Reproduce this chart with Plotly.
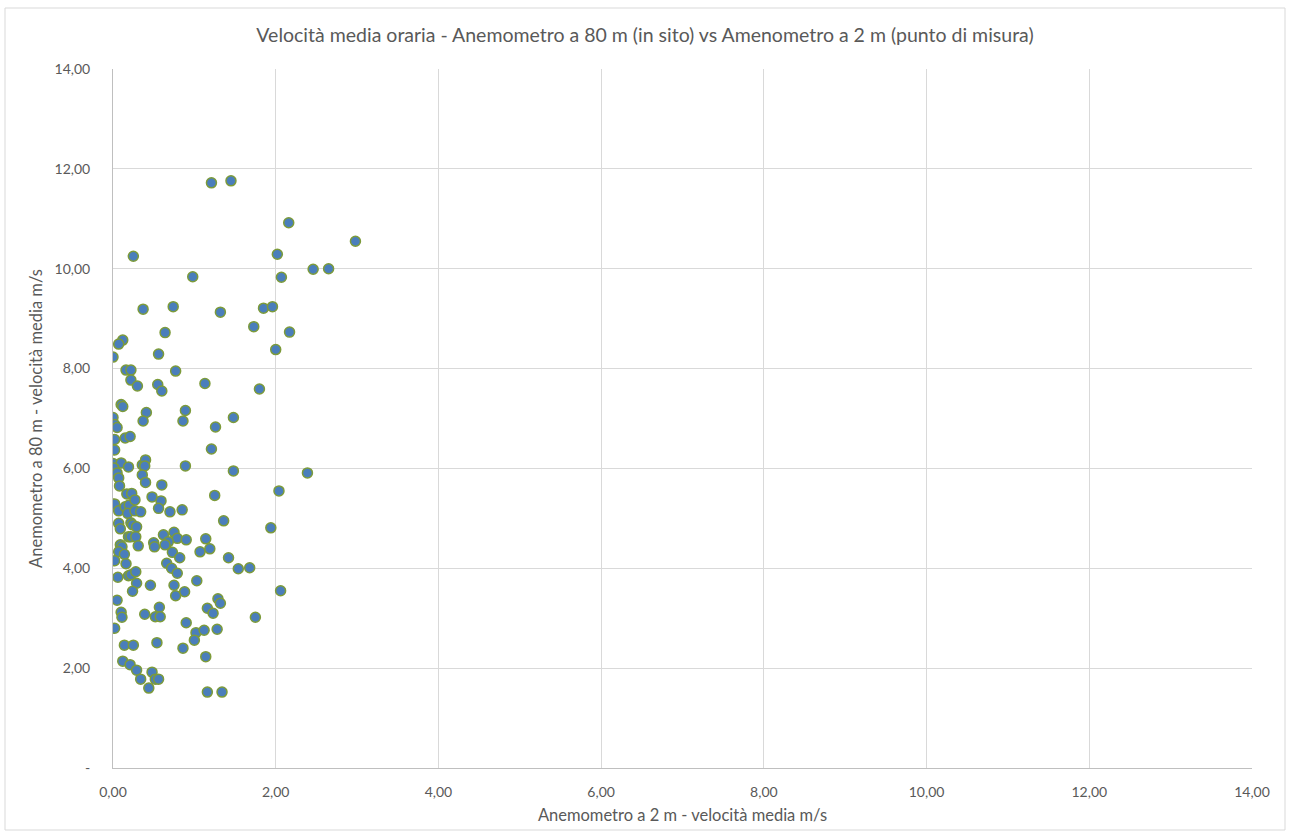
import plotly.graph_objects as go

# Hourly mean wind speed: anemometer at 2 m (x) vs anemometer at 80 m (y), m/s
vel_2m = [
    1.21, 1.45, 2.16, 0.25, 2.98, 2.02, 2.46, 2.65, 0.98, 2.07,
    0.74, 0.37, 1.32, 1.85, 1.96, 1.73, 2.17, 0.64, 0.12, 0.07,
    0.00, 0.56, 2.00, 0.16, 0.22, 0.77, 0.22, 0.30, 0.55, 0.60,
    1.13, 1.80, 0.10, 0.12, 0.41, 0.89, 0.00, 0.37, 0.86, 1.48,
    0.02, 0.05, 1.26, 0.02, 0.15, 0.21, 0.02, 1.21, 0.00, 0.10,
    0.01, 0.19, 0.36, 0.40, 0.39, 0.89, 1.48, 2.39, 0.05, 0.07,
    0.08, 0.36, 0.40, 0.60, 0.17, 0.23, 0.48, 0.59, 1.25, 2.04,
    0.02, 0.07, 0.15, 0.20, 0.27, 0.18, 0.27, 0.34, 0.56, 0.70,
    0.85, 1.36, 1.94, 0.07, 0.09, 0.22, 0.24, 0.29, 0.19, 0.22,
    0.28, 0.62, 0.75, 0.79, 0.68, 0.90, 1.14, 0.50, 0.51, 0.64,
    0.09, 0.11, 0.31, 1.07, 1.19, 0.73, 0.07, 0.14, 0.82, 1.42,
    0.02, 0.16, 1.54, 1.68, 0.66, 0.72, 0.79, 0.06, 0.19, 0.22,
    0.28, 0.29, 0.24, 0.46, 0.75, 1.03, 0.88, 0.77, 2.06, 0.05,
    1.29, 1.32, 1.16, 1.23, 0.57, 0.39, 0.10, 0.11, 0.52, 0.58,
    1.75, 0.90, 0.02, 1.02, 1.12, 1.28, 1.00, 0.14, 0.25, 0.54,
    0.86, 1.14, 0.12, 0.21, 0.29, 0.48, 0.34, 0.52, 0.56, 0.44,
    1.16, 1.34,
]
vel_80m = [
    11.72, 11.76, 10.92, 10.25, 10.55, 10.29, 9.99, 10.00, 9.84, 9.83,
    9.24, 9.19, 9.13, 9.21, 9.24, 8.84, 8.73, 8.72, 8.57, 8.49,
    8.23, 8.29, 8.38, 7.97, 7.97, 7.95, 7.77, 7.65, 7.68, 7.55,
    7.70, 7.59, 7.28, 7.24, 7.12, 7.16, 7.02, 6.95, 6.95, 7.02,
    6.88, 6.82, 6.83, 6.58, 6.61, 6.64, 6.37, 6.39, 6.10, 6.11,
    6.01, 6.03, 6.07, 6.17, 6.05, 6.05, 5.95, 5.91, 5.91, 5.81,
    5.65, 5.87, 5.72, 5.67, 5.49, 5.50, 5.43, 5.35, 5.46, 5.55,
    5.29, 5.15, 5.23, 5.27, 5.37, 5.10, 5.15, 5.13, 5.20, 5.13,
    5.17, 4.95, 4.81, 4.90, 4.79, 4.91, 4.87, 4.83, 4.63, 4.63,
    4.63, 4.67, 4.72, 4.60, 4.53, 4.57, 4.59, 4.51, 4.43, 4.47,
    4.47, 4.43, 4.45, 4.33, 4.39, 4.32, 4.33, 4.28, 4.21, 4.21,
    4.15, 4.09, 3.99, 4.01, 4.10, 4.00, 3.90, 3.82, 3.85, 3.87,
    3.93, 3.70, 3.54, 3.66, 3.66, 3.75, 3.53, 3.45, 3.55, 3.36,
    3.39, 3.30, 3.20, 3.10, 3.22, 3.08, 3.12, 3.02, 3.03, 3.03,
    3.02, 2.91, 2.80, 2.71, 2.76, 2.78, 2.56, 2.46, 2.46, 2.51,
    2.40, 2.23, 2.14, 2.07, 1.96, 1.92, 1.78, 1.78, 1.78, 1.60,
    1.52, 1.52,
]

tick_vals = [0, 2, 4, 6, 8, 10, 12, 14]
x_tick_text = ["0,00", "2,00", "4,00", "6,00", "8,00", "10,00", "12,00", "14,00"]
y_tick_text = ["-", "2,00", "4,00", "6,00", "8,00", "10,00", "12,00", "14,00"]

FONT = "Lato, Calibri, Carlito, sans-serif"
TEXT_COLOR = "#595959"
GRID = "#D9D9D9"

fig = go.Figure(
    go.Scatter(
        x=vel_2m,
        y=vel_80m,
        mode="markers",
        marker=dict(
            size=10,
            color="#4A7EBB",
            line=dict(color="#7D9B3A", width=1.5),
        ),
        hoverinfo="x+y",
    )
)

axis_common = dict(
    range=[0, 14],
    tickvals=tick_vals,
    showgrid=True,
    gridcolor=GRID,
    gridwidth=1,
    zeroline=False,
    showline=True,
    linecolor="#BFBFBF",
    linewidth=1,
    ticks="",
    tickfont=dict(family=FONT, size=14, color=TEXT_COLOR),
    fixedrange=True,
)

fig.update_xaxes(
    **axis_common,
    ticktext=x_tick_text,
    ticklabelstandoff=11,
    title=dict(
        text="Anemometro a 2 m - velocità media m/s",
        font=dict(family=FONT, size=16.5, color=TEXT_COLOR),
        standoff=10,
    ),
)
fig.update_yaxes(
    **axis_common,
    ticktext=y_tick_text,
    ticklabelstandoff=19,
    title=dict(
        text="Anemometro a 80 m - velocità media m/s",
        font=dict(family=FONT, size=16.5, color=TEXT_COLOR),
        standoff=7,
    ),
)

fig.update_layout(
    width=1290,
    height=839,
    paper_bgcolor="white",
    plot_bgcolor="white",
    showlegend=False,
    margin=dict(l=113, r=38, t=69, b=71),
    title=dict(
        text="Velocità media oraria - Anemometro a 80 m (in sito) vs Amenometro a 2 m (punto di misura)",
        font=dict(family=FONT, size=19.5, color=TEXT_COLOR),
        x=0.5,
        xanchor="center",
        y=1 - 35 / 839,
        yanchor="middle",
    ),
    shapes=[
        dict(
            type="rect",
            xref="paper",
            yref="paper",
            x0=-108 / 1139,
            x1=1 + 33 / 1139,
            y0=-62 / 699,
            y1=1 + 61 / 699,
            line=dict(color="#D9D9D9", width=1),
            fillcolor="rgba(0,0,0,0)",
            layer="below",
        )
    ],
)

fig.write_html("out.html")
